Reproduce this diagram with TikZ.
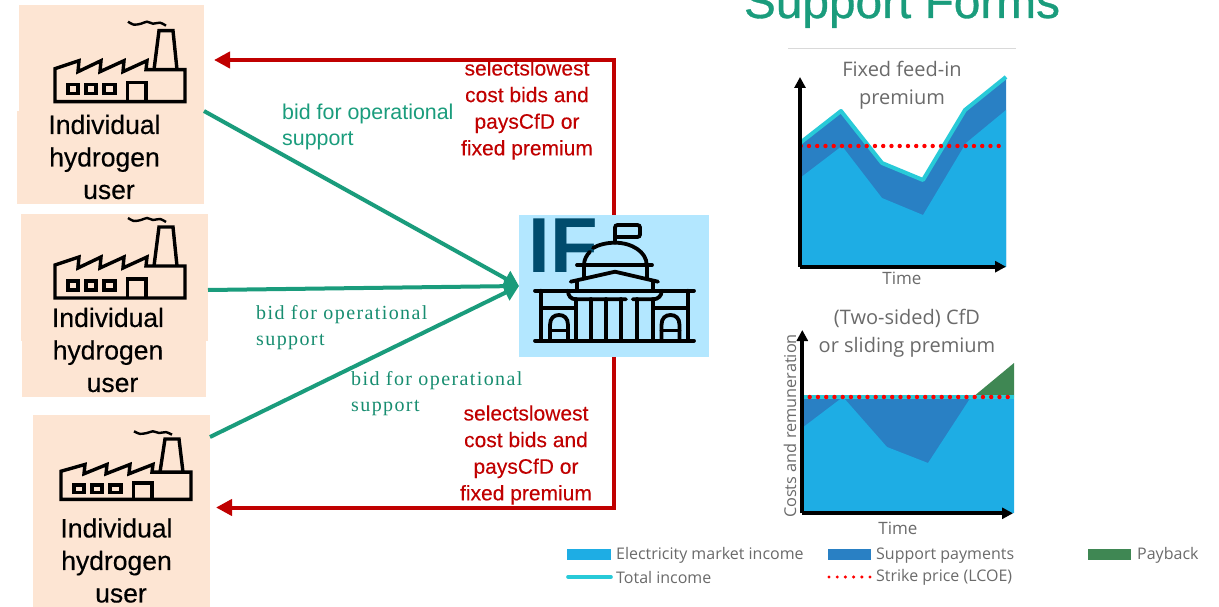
\documentclass[tikz,border=0pt]{standalone}
\usepackage{fontspec}
\setmainfont{Liberation Sans}
\newfontfamily\heavysans[FakeBold=0.35]{Liberation Sans}
\newfontfamily\midsans[FakeBold=0.15]{Liberation Sans}
\newfontfamily\titlesans[FakeBold=0.7]{Liberation Sans}
\newfontfamily\chartfont{Open Sans}
\newfontfamily\bidserif[LetterSpace=7]{Liberation Serif}
\usetikzlibrary{arrows.meta}
\definecolor{userpeach}{HTML}{FDE5D3}
\definecolor{fundblue}{HTML}{B3E7FF}
\definecolor{ifblue}{HTML}{004C6D}
\definecolor{bidgreen}{HTML}{1A9C7C}
\definecolor{payred}{HTML}{C00000}
\definecolor{marketblue}{HTML}{1EADE4}
\definecolor{supportblue}{HTML}{2980C4}
\definecolor{totalcyan}{HTML}{28CAD8}
\definecolor{paybackgreen}{HTML}{3F8753}
\definecolor{chartgrey}{HTML}{6A6A6A}
\newcommand{\factoryicon}[3]% left, bottom, yscale
{\begin{scope}[shift={(#1,#2)},yscale=#3,line width=3.4pt,miter limit=3]
	\draw (0,0) -- (0,-33) -- (24,-41) -- (23,-30) -- (46,-41) -- (45,-30) -- (69,-41) -- (68,-30) -- (92,-41) -- (91,-32) -- (130,-32) -- (130,0) -- cycle;
	\draw (99,-32) -- (104,-71) -- (118,-71) -- (122,-32);
	\draw[line width=2.4pt] plot[smooth] coordinates {(73,-80) (79,-77) (86,-78) (92,-80) (98,-78) (105,-79) (111,-76)};
	\draw (13,-17) rectangle (23,-8);
	\draw (31,-17) rectangle (41,-8);
	\draw (49,-17) rectangle (60,-8);
	\draw (72.5,0) -- (72.5,-19) -- (91,-19) -- (91,0);
\end{scope}}
\newcommand{\archdoor}[1]% left
{\draw (#1,340) -- (#1,325) .. controls (#1,318) and (#1+4,315) .. (#1+9,315) .. controls (#1+14,315) and (#1+18,318) .. (#1+18,325) -- (#1+18,340);
	\draw (#1,330.5) -- (#1+18,330.5);
}
\tikzset{
	panel/.style={fill=#1,inner sep=0,outer sep=0},
	usertext/.style={font=\heavysans\fontsize{26.5}{32.5}\selectfont,align=center,inner sep=0},
	bidtext/.style={font=\fontsize{21.4}{26}\selectfont,text=bidgreen,align=left,inner sep=0},
	bidserif/.style={font=\bidserif\fontsize{20}{26}\selectfont,text=bidgreen!90!black,align=left,inner sep=0},
	paytext/.style={font=\midsans\fontsize{21}{26.6}\selectfont,text=payred,align=center,inner sep=0},
	bidline/.style={draw=bidgreen,line width=4pt,-{Triangle[length=15pt,width=17pt]}},
	payline/.style={draw=payred,line width=4pt,-{Triangle[length=16pt,width=16pt]}},
	charttext/.style={font=\chartfont\fontsize{#1}{28}\selectfont,text=chartgrey,align=center,inner sep=0},
	axisline/.style={line width=3.8pt,-{Triangle[length=11pt,width=11pt]}},
	strikeline/.style={red,line width=4.4pt,line cap=round,dash pattern=on 0pt off 8.25pt},
	totalline/.style={totalcyan,line width=4pt,line join=round},
	legendtext/.style={font=\chartfont\fontsize{16}{18}\selectfont,text=chartgrey,anchor=west,inner sep=0},
}
\begin{document}
\begin{tikzpicture}[x=1pt,y=-1pt]
	\useasboundingbox (0,0) rectangle (1219,607);
	% users
	\node[panel=userpeach,minimum width=187pt,minimum height=93pt] (user1low) at (110.5,157.5){};
	\node[panel=userpeach,minimum width=185pt,minimum height=106pt] (user1) at (111.5,58){};
	\node[panel=userpeach,minimum width=184pt,minimum height=56pt] (user2low) at (114,369){};
	\node[panel=userpeach,minimum width=187pt,minimum height=127pt] (user2) at (114.5,277.5){};
	\node[panel=userpeach,minimum width=177pt,minimum height=192pt] (user3) at (121.5,511){};
	\factoryicon{55}{101.7}{1}
	\factoryicon{55}{298}{1}
	\factoryicon{61}{499.3}{0.85}
	\node[usertext] (name1) at (104.5,157){Individual\\hydrogen\\\hspace*{9pt}user};
	\node[usertext] (name2) at (108,350){Individual\\hydrogen\\\hspace*{9pt}user};
	\node[usertext] (name3) at (116.5,560.5){Individual\\hydrogen\\\hspace*{9pt}user};
	% fund
	\node[panel=fundblue,minimum width=190pt,minimum height=142pt] (fund) at (614,286){};
	\node[inner sep=0,text=ifblue,font=\bfseries\fontsize{78}{78}\selectfont] (iflabel) at (563,246){IF};
	\begin{scope}[line width=3.8pt,line cap=round]
		\draw (535,340.7) -- (694,340.7);
		\draw (535,290.7) -- (694,290.7);
		\draw (541,290.7) -- (541,340.7);
		\draw (687.7,290.7) -- (687.7,340.7);
		\draw (543,308) -- (575,308);
		\draw (655,308) -- (686,308);
		\archdoor{550}
		\archdoor{661.5}
		\foreach \colx in {576,590.7,606,620.7,637,652.7}
			\draw (\colx,299) -- (\colx,340.7);
		\draw (568,290.7) .. controls (568,296) and (571,299.3) .. (576,299.3) -- (626,299.3);
		\draw (661.7,290.7) .. controls (661.7,296) and (658,299.3) .. (653,299.3) -- (632.7,299.3);
		\draw (570.7,281.7) -- (615,271.7) -- (658,281.7);
		\draw (577,281) -- (577,290.7);
		\draw (652.7,281) -- (652.7,290.7);
		\draw (577,265) -- (652,265);
		\draw (584,265) -- (584,278);
		\draw (646.7,265) -- (646.7,278);
		\draw (646.7,265) .. controls (646.7,252) and (632,242.7) .. (615,242.7) .. controls (606,242.7) and (598,245) .. (593,248);
		\draw (590,251.7) .. controls (586.5,255) and (584,260) .. (584,265);
		\draw[rounded corners=2.5pt] (615,242.7) -- (615,225) -- (640,225) -- (640,237) -- (615,237);
	\end{scope}
	% connectors
	\draw[bidline] (user1.south east) -- (fund.west);
	\draw[bidline] ([yshift=-12.5pt]user2.east) -- (fund.west);
	\draw[bidline] ([yshift=-22pt]user3.north east) -- (fund.west);
	\draw[payline] (fund.north) |- ([xshift=10pt,yshift=-2pt]user1.east);
	\draw[payline] (fund.south) |- ([xshift=6pt,yshift=3.5pt]user3.east);
	% labels
	\node[bidtext,anchor=north west] (bid1) at (282,103.5){bid for operational\\support};
	\node[bidserif,anchor=north west] (bid2) at (256,305){bid for operational\\support};
	\node[bidserif,anchor=north west] (bid3) at (351,371.5){bid for operational\\support};
	\node[paytext] (pay1) at (527,110){selectslowest\\cost bids and\\paysCfD or\\fixed premium};
	\node[paytext] (pay2) at (526,455){selectslowest\\cost bids and\\paysCfD or\\fixed premium};
	% support forms
	\node[inner sep=0,anchor=base,text=bidgreen,font=\titlesans\fontsize{47.8}{48}\selectfont] (title) at (902,18){Support Forms};
	\draw[black!15,line width=1pt] (788,49) -- (1016,49);
	% fixed premium chart
	\fill[supportblue] (800,143) -- (841,111) -- (882,163) -- (923,180) -- (965,110) -- (1006,77) -- (1006,267) -- (800,267) -- cycle;
	\fill[marketblue] (800,178) -- (842,146) -- (882,198) -- (923,215) -- (966,143) -- (1006,110) -- (1006,267) -- (800,267) -- cycle;
	\draw[totalline] (800,143) -- (841,111) -- (882,163) -- (923,180) -- (965,110) -- (1006,77);
	\draw[strikeline] (800.7,146) -- (1002,146);
	\draw[axisline] (800,266.7) -- (800,77);
	\draw[axisline] (800,266.7) -- (1006,266.7);
	\node[charttext=20] (form1) at (902,85){Fixed feed-in\\premium};
	\node[charttext=17] (time1) at (902,278.5){Time};
	% sliding premium chart
	\fill[supportblue] (802,397) -- (1014,397) -- (1014,513) -- (802,513) -- cycle;
	\fill[marketblue] (802,428) -- (843,397) -- (887,447) -- (928,463) -- (971,397) -- (1014,397) -- (1014,513) -- (802,513) -- cycle;
	\fill[paybackgreen] (973,397) -- (1014,363) -- (1014,397) -- cycle;
	\draw[totalline] (802,397) -- (1014,397);
	\draw[strikeline] (809.7,397) -- (1012,397);
	\draw[axisline] (802.3,513.3) -- (802.3,330);
	\draw[axisline] (802.3,513.3) -- (1013,513.3);
	\node[charttext=20] (form2) at (907,333){(Two-sided) CfD\\or sliding premium};
	\node[charttext=17] (time2) at (898,528.5){Time};
	\node[charttext=16.3,rotate=90] (costs) at (790,426){Costs and remuneration};
	% legend
	\fill[marketblue] (567,549) rectangle (611,560);
	\fill[supportblue] (828,549) rectangle (871,560);
	\fill[paybackgreen] (1088,549) rectangle (1131,560);
	\draw[totalcyan,line width=3.6pt,line cap=round] (568,577) -- (611,577);
	\draw[red,line width=3.4pt,line cap=round,dash pattern=on 0pt off 8.2pt] (829,577) -- (872,577);
	\node[legendtext] (leg1) at (616,555.5){Electricity market income};
	\node[legendtext] (leg2) at (876,555.5){Support payments};
	\node[legendtext] (leg3) at (1137,555.5){Payback};
	\node[legendtext] (leg4) at (616,577){Total income};
	\node[legendtext] (leg5) at (876,577){Strike price (LCOE)};
\end{tikzpicture}
\end{document}
